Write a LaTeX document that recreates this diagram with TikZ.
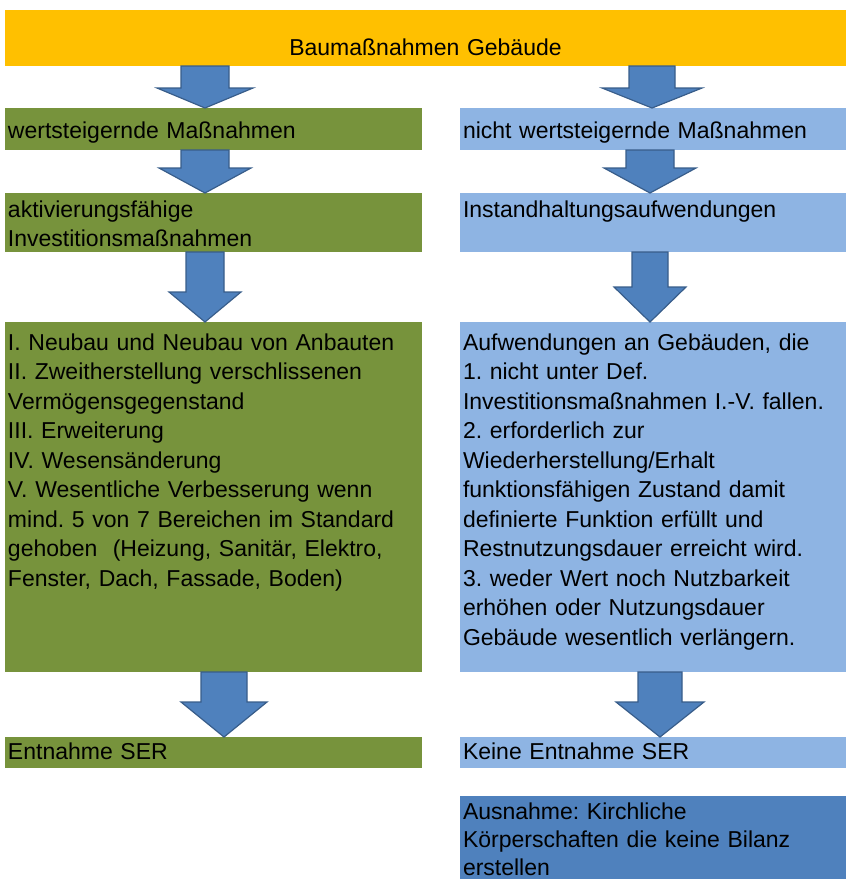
\documentclass[tikz,border=0pt]{standalone}
\usepackage{fontspec}
\setmainfont{Liberation Sans}
\usetikzlibrary{calc}
\usepackage{xcolor}
\definecolor{baugelb}{HTML}{FFC000}
\definecolor{wertgruen}{HTML}{77933C}
\definecolor{hellblau}{HTML}{8EB4E3}
\definecolor{dunkelblau}{HTML}{4F81BD}
\definecolor{pfeilrand}{HTML}{385D8A}
\frenchspacing

% breiter Pfeil von Block #1 nach Block #2: x-Mitte, halbe Schaftbreite, halbe Kopfbreite, Kopflaenge
\newcommand{\fatarrow}[6]{%
  \draw[pfeil] let \p1=(#1.south), \p2=(#2.north) in
    (#3pt-#4pt,\y1) -- (#3pt+#4pt,\y1) -- (#3pt+#4pt,\y2+#6pt) -- (#3pt+#5pt,\y2+#6pt)
    -- (#3pt,\y2) -- (#3pt-#5pt,\y2+#6pt) -- (#3pt-#4pt,\y2+#6pt) -- cycle;}

\tikzset{
  block/.style={anchor=north west, inner xsep=3pt, inner ysep=0pt, outer sep=0pt, align=left, text=black},
  links/.style={block, fill=wertgruen, text width=411pt},
  rechts/.style={block, fill=hellblau, text width=380pt},
  pfeil/.style={fill=dunkelblau, draw=pfeilrand, line width=1.2pt, line join=miter}
}

\begin{document}
\begin{tikzpicture}[x=1pt, y=-1pt, font=\fontsize{23}{29.5}\selectfont]
\useasboundingbox (0,0) rectangle (846,879);

\node[block, fill=baugelb, text width=835pt, align=center, text height=45pt, text depth=11pt] (bau) at (5,10) {Baumaßnahmen Gebäude};

\node[links, text height=30pt, text depth=12pt] (lwert) at (5,108) {wertsteigernde Maßnahmen};
\node[rechts, text height=30pt, text depth=12pt] (rwert) at (460,108) {nicht wertsteigernde Maßnahmen};

\node[links, text height=24pt, text depth=35pt] (lakt) at (5,193) {aktivierungsfähige\\Investitionsmaßnahmen};
\node[rechts, text height=24pt, text depth=35pt] (rinst) at (460,193) {Instandhaltungsaufwendungen};

\node[links, text height=28pt, text depth=322pt] (lneu) at (5,322) {I. Neubau und Neubau von Anbauten\\II. Zweitherstellung verschlissenen\\Vermögensgegenstand\\III. Erweiterung\\IV. Wesensänderung\\V. Wesentliche Verbesserung wenn\\mind. 5 von 7 Bereichen im Standard\\gehoben~ (Heizung, Sanitär, Elektro,\\Fenster, Dach, Fassade, Boden)};
\node[rechts, text height=28pt, text depth=322pt] (rauf) at (460,322) {Aufwendungen an Gebäuden, die\\1. nicht unter Def.\\Investitionsmaßnahmen I.-V. fallen.\\2. erforderlich zur\\Wiederherstellung/Erhalt\\funktionsfähigen Zustand damit\\definierte Funktion erfüllt und\\Restnutzungsdauer erreicht wird.\\3. weder Wert noch Nutzbarkeit\\erhöhen oder Nutzungsdauer\\Gebäude wesentlich verlängern.};

\node[links, text height=22pt, text depth=9pt] (lent) at (5,737) {Entnahme SER};
\node[rechts, text height=22pt, text depth=9pt] (rkein) at (460,737) {Keine Entnahme SER};

\node[block, fill=dunkelblau, text width=380pt, text height=23pt, text depth=60pt, font=\fontsize{23}{28}\selectfont] (raus) at (460,796) {Ausnahme: Kirchliche\\Körperschaften die keine Bilanz\\erstellen};

% Pfeile
\fatarrow{bau}{lwert}{205}{24}{48}{20}
\fatarrow{bau}{rwert}{652}{23}{50}{20}
\fatarrow{lwert}{lakt}{205}{24}{46}{25}
\fatarrow{rwert}{rinst}{650}{24}{46}{25}
\fatarrow{lakt}{lneu}{205}{19}{36}{30}
\fatarrow{rinst}{rauf}{650}{18}{36}{35}
\fatarrow{lneu}{lent}{224}{23}{43}{35}
\fatarrow{rauf}{rkein}{660}{22}{44}{35}
\end{tikzpicture}
\end{document}
